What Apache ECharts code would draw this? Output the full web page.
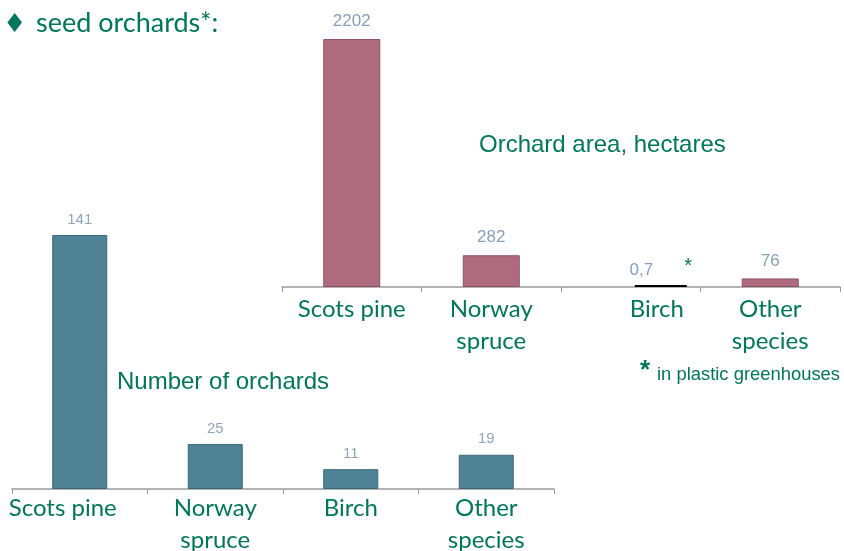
<!DOCTYPE html>
<html>
<head>
<meta charset="utf-8">
<script src="https://cdn.jsdelivr.net/npm/echarts@6/dist/echarts.min.js"></script>
<style>
  html, body { margin: 0; padding: 0; background: #fff; }
  #main { width: 844px; height: 551px; }
</style>
</head>
<body>
<div id="main"></div>
<script>
// orchard area (hectares) and number of orchards per species
const areaCategories = ['Scots pine', 'Norway\nspruce', 'Birch', 'Other\nspecies']
const areaValues = [2202, 282, 0.7, 76]
const countCategories = ['Scots pine', 'Norway\nspruce', 'Birch', 'Other\nspecies']
const countValues = [141, 25, 11, 19]

const green = '#00775a'
const labelFont = 'Lato, "Noto Sans", sans-serif'
const numFont = 'Arial, "Liberation Sans", sans-serif'
const birchIndex = 2

const myChart = echarts.init(document.getElementById('main'))

var option = {
  animation: false,
  grid: [
    { left: 282, top: 39, width: 558, height: 248, outerBoundsMode: 'none' }, // area
    { left: 12, top: 235, width: 542, height: 254, outerBoundsMode: 'none' }  // number
  ],
  xAxis: [
    {
      type: 'category',
      gridIndex: 0,
      data: areaCategories.map((c, i) => i === birchIndex
        ? { value: c, textStyle: { padding: [0, 0, 0, 52] } }
        : c),
      axisLine: { lineStyle: { color: '#9a9a9a', width: 1.5 } },
      axisTick: { show: true, length: 5, lineStyle: { color: '#9a9a9a' } },
      axisLabel: {
        color: green, fontFamily: labelFont, fontSize: 24,
        lineHeight: 32, margin: 6, interval: 0
      }
    },
    {
      type: 'category',
      gridIndex: 1,
      data: countCategories.map((c, i) => i === 0
        ? { value: c, textStyle: { padding: [0, 34, 0, 0] } }
        : c),
      axisLine: { lineStyle: { color: '#9a9a9a', width: 1.5 } },
      axisTick: { show: true, length: 5, lineStyle: { color: '#9a9a9a' } },
      axisLabel: {
        color: green, fontFamily: labelFont, fontSize: 24,
        lineHeight: 32, margin: 3, interval: 0
      }
    },
    {
      // hidden axis so the birch mark can sit a bit right of centre
      type: 'category',
      gridIndex: 0,
      show: false,
      data: areaCategories
    }
  ],
  yAxis: [
    { type: 'value', gridIndex: 0, min: 0, max: 2202, show: false },
    { type: 'value', gridIndex: 1, min: 0, max: 141, show: false }
  ],
  series: [
    {
      name: 'Orchard area, hectares',
      type: 'bar',
      xAxisIndex: 0,
      yAxisIndex: 0,
      barWidth: 57,
      itemStyle: { color: '#ae6b80', borderColor: '#8e5165', borderWidth: 1 },
      label: {
        show: true, position: 'top', distance: 9,
        color: '#86a0bb', fontFamily: numFont, fontSize: 17
      },
      data: areaValues.map((v, i) => i === birchIndex
        ? { value: v, itemStyle: { opacity: 0 }, label: { show: false } }
        : v)
    },
    {
      name: 'spacer',
      type: 'bar',
      xAxisIndex: 2,
      yAxisIndex: 0,
      barWidth: 60,
      barGap: '0%',
      data: []
    },
    {
      name: 'Birch area',
      type: 'bar',
      xAxisIndex: 2,
      yAxisIndex: 0,
      barWidth: 52,
      barGap: '0%',
      barMinHeight: 2,
      itemStyle: { color: '#000' },
      label: {
        show: true, position: 'top', distance: 1,
        formatter: p => '{v|' + String(p.value).replace('.', ',') + '}{s|*}',
        rich: {
          v: { color: '#86a0bb', fontFamily: numFont, fontSize: 17 },
          s: { color: green, fontFamily: numFont, fontSize: 20, padding: [0, 0, 8, 31] }
        }
      },
      data: areaValues.map((v, i) => i === birchIndex ? v : null)
    },
    {
      name: 'Number of orchards',
      type: 'bar',
      xAxisIndex: 1,
      yAxisIndex: 1,
      barWidth: 55,
      itemStyle: { color: '#4e8294', borderColor: '#3b6a7a', borderWidth: 1 },
      label: {
        show: true, position: 'top', distance: 8,
        color: '#8ea6bd', fontFamily: numFont, fontSize: 15
      },
      data: countValues
    }
  ],
  graphic: [
    {
      type: 'text', left: 3, top: 12,
      style: { text: '♦', fill: green, font: '26px "DejaVu Sans"' }
    },
    {
      type: 'text', left: 36, top: 10,
      style: { text: 'seed orchards*:', fill: green, font: '27px Lato' }
    },
    {
      type: 'text', left: 479, top: 133,
      style: { text: 'Orchard area, hectares', fill: green, font: '24px Arial, "Liberation Sans"' }
    },
    {
      type: 'text', left: 117, top: 370,
      style: { text: 'Number of orchards', fill: green, font: '24px Arial, "Liberation Sans"' }
    },
    {
      type: 'text', left: 640, top: 358,
      style: { text: '*', fill: green, font: 'bold 26px Arial, "Liberation Sans"' }
    },
    {
      type: 'text', left: 657, top: 366,
      style: { text: 'in plastic greenhouses', fill: green, font: '18.4px Arial, "Liberation Sans"' }
    }
  ]
}
option && myChart.setOption(option)
</script>
</body>
</html>
